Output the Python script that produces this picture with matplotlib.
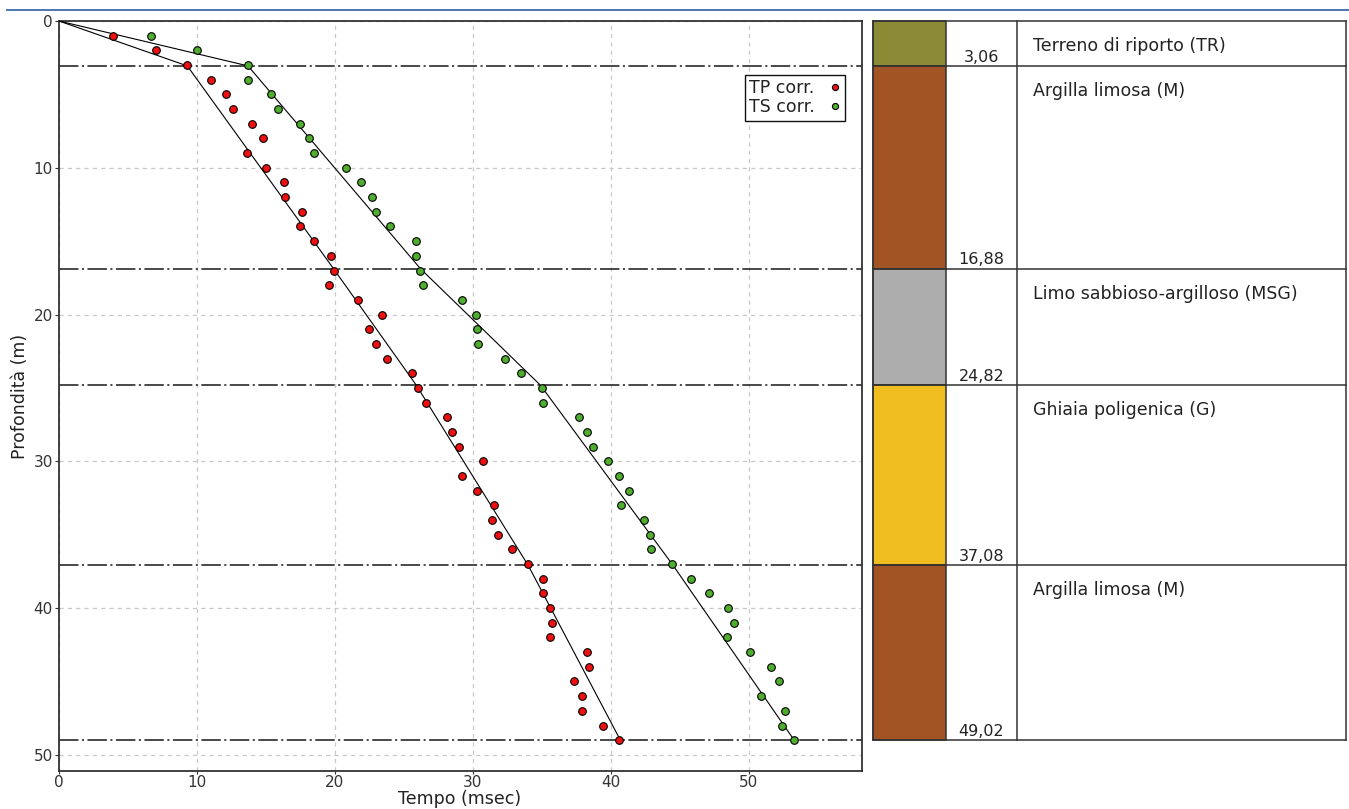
import matplotlib
matplotlib.use("Agg")
import matplotlib.pyplot as plt
from matplotlib.lines import Line2D
from matplotlib.patches import Rectangle

# ---------------- data ----------------
depths = list(range(1, 50))
tp_corr = [3.9, 7.0, 9.3, 11.0, 12.1, 12.6, 14.0, 14.8, 13.6, 15.0,
           16.3, 16.4, 17.6, 17.5, 18.5, 19.7, 19.9, 19.6, 21.7, 23.4,
           22.5, 23.0, 23.8, 25.6, 26.0, 26.6, 28.1, 28.5, 29.0, 30.7,
           29.2, 30.3, 31.5, 31.4, 31.8, 32.8, 34.0, 35.1, 35.1, 35.6,
           35.7, 35.6, 38.3, 38.4, 37.3, 37.9, 37.9, 39.4, 40.6]
ts_corr = [6.7, 10.0, 13.7, 13.7, 15.4, 15.9, 17.5, 18.1, 18.5, 20.8,
           21.9, 22.7, 23.0, 24.0, 25.9, 25.9, 26.2, 26.4, 29.2, 30.2,
           30.3, 30.4, 32.3, 33.5, 35.0, 35.1, 37.7, 38.3, 38.7, 39.8,
           40.6, 41.3, 40.7, 42.4, 42.8, 42.9, 44.4, 45.8, 47.1, 48.5,
           48.9, 48.4, 50.1, 51.6, 52.2, 50.9, 52.6, 52.4, 53.3]

# layer model
layer_bottoms = [3.06, 16.88, 24.82, 37.08, 49.02]
layer_labels = ["3,06", "16,88", "24,82", "37,08", "49,02"]
layer_names = ["Terreno di riporto (TR)", "Argilla limosa (M)",
               "Limo sabbioso-argilloso (MSG)", "Ghiaia poligenica (G)",
               "Argilla limosa (M)"]
layer_colors = ["#8b8a35", "#a35424", "#adadad", "#efbd1f", "#a35424"]

# fitted travel-time lines (times at surface and at each layer bottom)
fit_depths = [0.0] + layer_bottoms
tp_fit = [0.0, 9.3, 19.9, 25.9, 34.0, 40.7]
ts_fit = [0.0, 13.7, 26.2, 34.9, 44.5, 53.3]

x_ticks = [0, 10, 20, 30, 40, 50]
y_ticks = [0, 10, 20, 30, 40, 50]

# ---------------- figure ----------------
plt.rcParams['font.family'] = ['DejaVu Sans']
plt.rcParams['lines.scale_dashes'] = False
W, H = 1349, 809
fig = plt.figure(figsize=(W / 100, H / 100), dpi=100)
fig.patch.set_facecolor("white")

def fx(px):
    return px / W

def fy(py):
    return 1 - py / H

ax_left, ax_right, ax_top, ax_bot = 59, 862, 21, 771
ax = fig.add_axes([fx(ax_left), fy(ax_bot), fx(ax_right - ax_left), (ax_bot - ax_top) / H])
ymax = 51.1
ax.set_xlim(0, 58.2)
ax.set_ylim(ymax, 0)

ax.set_xticks(x_ticks)
ax.set_yticks(y_ticks)
ax.tick_params(axis='both', colors='#333333', labelsize=11, length=3, width=0.8, pad=1.5)
ax.tick_params(axis='x', length=2, pad=1)
ax.grid(True, color='#c8c8c8', linestyle=(0, (3, 3)), linewidth=0.9)
ax.set_axisbelow(True)
for s in ax.spines.values():
    s.set_color('#333333')
    s.set_linewidth(1.3)

# layer boundary lines
for d in layer_bottoms:
    ax.axhline(d, color='#2a2a2a', linewidth=1.2, linestyle=(0, (14, 2.5, 1.5, 2.5)), zorder=2)

# fitted lines
ax.plot(tp_fit, fit_depths, color='black', linewidth=0.8, zorder=3)
ax.plot(ts_fit, fit_depths, color='black', linewidth=0.8, zorder=3)

# points
ax.plot(tp_corr, depths, linestyle='none', marker='o', markersize=5.5,
        markerfacecolor='#ee1111', markeredgecolor='black', markeredgewidth=0.8,
        label='TP corr.', zorder=4)
ax.plot(ts_corr, depths, linestyle='none', marker='o', markersize=5.5,
        markerfacecolor='#4fae2e', markeredgecolor='black', markeredgewidth=0.8,
        label='TS corr.', zorder=4)

leg = ax.legend(loc='upper right', bbox_to_anchor=((845 - ax_left) / (ax_right - ax_left),
                                                   1 - (75 - ax_top) / (ax_bot - ax_top)),
                borderaxespad=0, markerfirst=False, fancybox=False, framealpha=1,
                edgecolor='#111111', fontsize=12.5, handlelength=0.6, handletextpad=0.9,
                labelspacing=0.05, borderpad=0.25, markerscale=0.8)
leg.get_frame().set_linewidth(1.0)
for t in leg.get_texts():
    t.set_color('#222222')

fig.text(fx(20), fy(396), "Profondità (m)", rotation=90, ha='center', va='center',
         fontsize=12.5, color='#222222')
fig.text(fx(460), fy(799), "Tempo (msec)", ha='center', va='center',
         fontsize=12.5, color='#222222')

# ---------------- stratigraphic column ----------------
pl, pr = 873, 1347
axr = fig.add_axes([fx(pl), fy(ax_bot), fx(pr - pl), (ax_bot - ax_top) / H])
axr.set_xlim(0, 1)
axr.set_ylim(ymax, 0)
axr.axis('off')
c1 = (946 - pl) / (pr - pl)
c2 = (1017 - pl) / (pr - pl)
c3 = (1346 - pl) / (pr - pl)
edge = '#333333'
tops = [0.0] + layer_bottoms[:-1]
for top, bot, lab, name, col in zip(tops, layer_bottoms, layer_labels, layer_names, layer_colors):
    axr.add_patch(Rectangle((0, top), c1, bot - top, facecolor=col, edgecolor=edge,
                            linewidth=1.1, clip_on=False))
    axr.plot([0, c3], [bot, bot], color=edge, linewidth=1.1, clip_on=False)
    axr.text((c1 + c2) / 2, bot - 0.3, lab, ha='center', va='baseline',
             fontsize=11.5, color='#222222')
    axr.text((1033 - pl) / (pr - pl), top + 1.7, name, ha='left', va='center',
             fontsize=12.5, color='#222222')
axr.plot([0, c3], [0, 0], color=edge, linewidth=1.1, clip_on=False)
for xx in [0, c2, c3]:
    axr.plot([xx, xx], [0, layer_bottoms[-1]], color=edge, linewidth=1.1, clip_on=False)

# top rule
fig.add_artist(Line2D([fx(7), fx(1349)], [fy(10), fy(10)], color='#3a6aa8', linewidth=1.3))

fig.savefig("out.png", dpi=100, facecolor='white')
